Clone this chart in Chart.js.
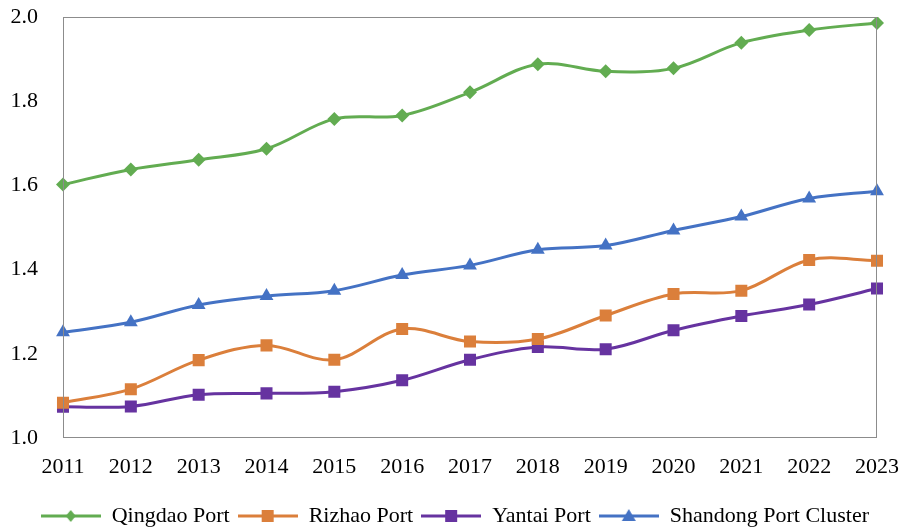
<!DOCTYPE html>
<html>
<head>
<meta charset="utf-8">
<script src="https://cdn.jsdelivr.net/npm/chart.js@4/dist/chart.umd.min.js"></script>
<style>
  html, body { margin: 0; padding: 0; background: #fff; }
  #wrap { width: 899px; height: 530px; }
</style>
</head>
<body>
<div id="wrap"><canvas id="portChart" width="899" height="530"></canvas></div>
<script>
const years = ['2011', '2012', '2013', '2014', '2015', '2016', '2017', '2018', '2019', '2020', '2021', '2022', '2023'];
const qingdao = [1.602, 1.638, 1.661, 1.687, 1.758, 1.766, 1.821, 1.888, 1.871, 1.878, 1.939, 1.969, 1.986];
const rizhao = [1.084, 1.116, 1.185, 1.220, 1.186, 1.259, 1.229, 1.235, 1.291, 1.342, 1.350, 1.423, 1.421];
const yantai = [1.074, 1.075, 1.103, 1.106, 1.110, 1.137, 1.186, 1.216, 1.211, 1.256, 1.290, 1.317, 1.355];
const shandong = [1.251, 1.275, 1.316, 1.337, 1.350, 1.387, 1.410, 1.447, 1.457, 1.493, 1.526, 1.569, 1.586];
const yTicks = [1.0, 1.2, 1.4, 1.6, 1.8, 2.0];

const seriesNames = ['Qingdao Port', 'Rizhao Port', 'Yantai Port', 'Shandong Port Cluster'];
const seriesColors = ['#62AC51', '#DB7F3B', '#6633A0', '#4472C4'];
const seriesMarkers = ['rectRot', 'rect', 'rect', 'triangle'];
const markerSizes = [7, 8.5, 8.5, 8];
const iconW = 60;

// legend sample: short line with the marker in the middle
function legendIcon(color, marker) {
    const c = document.createElement('canvas');
    c.width = iconW; c.height = 18;
    const g = c.getContext('2d');
    const m = iconW / 2;
    g.strokeStyle = color;
    g.lineWidth = 3;
    g.beginPath(); g.moveTo(0, 9); g.lineTo(iconW, 9); g.stroke();
    g.fillStyle = color;
    g.beginPath();
    if (marker === 'rectRot') {
        g.moveTo(m, 3); g.lineTo(m + 5, 9); g.lineTo(m, 15); g.lineTo(m - 5, 9);
    } else if (marker === 'rect') {
        g.rect(m - 6, 3, 12, 12);
    } else {
        g.moveTo(m, 2); g.lineTo(m + 7, 14); g.lineTo(m - 7, 14);
    }
    g.closePath(); g.fill();
    return c;
}

const allSeries = [qingdao, rizhao, yantai, shandong];
const datasets = allSeries.map((vals, i) => ({
    label: seriesNames[i],
    data: vals,
    borderColor: seriesColors[i],
    backgroundColor: seriesColors[i],
    borderWidth: 3,
    pointStyle: seriesMarkers[i],
    pointRadius: markerSizes[i],
    pointBorderWidth: 0,
    tension: 0.35,
    fill: false
}));

const frameBox = {
    id: 'frameBox',
    afterDatasetsDraw(chart) {
        const a = chart.chartArea;
        const ctx = chart.ctx;
        ctx.save();
        ctx.strokeStyle = '#8C8C8C';
        ctx.lineWidth = 1;
        ctx.strokeRect(a.left + 0.5, a.top + 0.5, a.right - a.left - 1, a.bottom - a.top - 1);
        ctx.restore();
    }
};

Chart.defaults.font.family = '"Liberation Serif", "Times New Roman", serif';
Chart.defaults.color = '#000';

new Chart(document.getElementById('portChart'), {
    type: 'line',
    data: { labels: years, datasets: datasets },
    plugins: [frameBox],
    options: {
        responsive: false,
        animation: false,
        layout: { padding: { top: 17, right: 22, left: 0, bottom: -7 } },
        scales: {
            x: {
                grid: { display: false },
                border: { display: false },
                ticks: { font: { size: 22 }, padding: 8, maxRotation: 0 },
                afterFit: axis => {
                    axis.paddingLeft = 0;
                    axis.paddingRight = 0;
                    axis.height = 59;
                }
            },
            y: {
                min: 1.0,
                max: 2.0,
                afterBuildTicks: axis => { axis.ticks = yTicks.map(v => ({ value: v })); },
                grid: { display: false },
                border: { display: false },
                ticks: { font: { size: 22 }, padding: 17, callback: v => v.toFixed(1) },
                afterFit: axis => {
                    axis.paddingTop = 0;
                    axis.paddingBottom = 0;
                    axis.width = 63;
                }
            }
        },
        plugins: {
            legend: {
                position: 'bottom',
                align: 'end',
                labels: {
                    usePointStyle: true,
                    pointStyleWidth: iconW,
                    font: { size: 22 },
                    padding: 8,
                    generateLabels: chart => chart.data.datasets.map((ds, i) => ({
                        text: ds.label,
                        pointStyle: legendIcon(seriesColors[i], seriesMarkers[i]),
                        fillStyle: seriesColors[i],
                        strokeStyle: seriesColors[i],
                        lineWidth: 0,
                        datasetIndex: i
                    }))
                }
            },
            tooltip: { enabled: false }
        }
    }
});
</script>
</body>
</html>
